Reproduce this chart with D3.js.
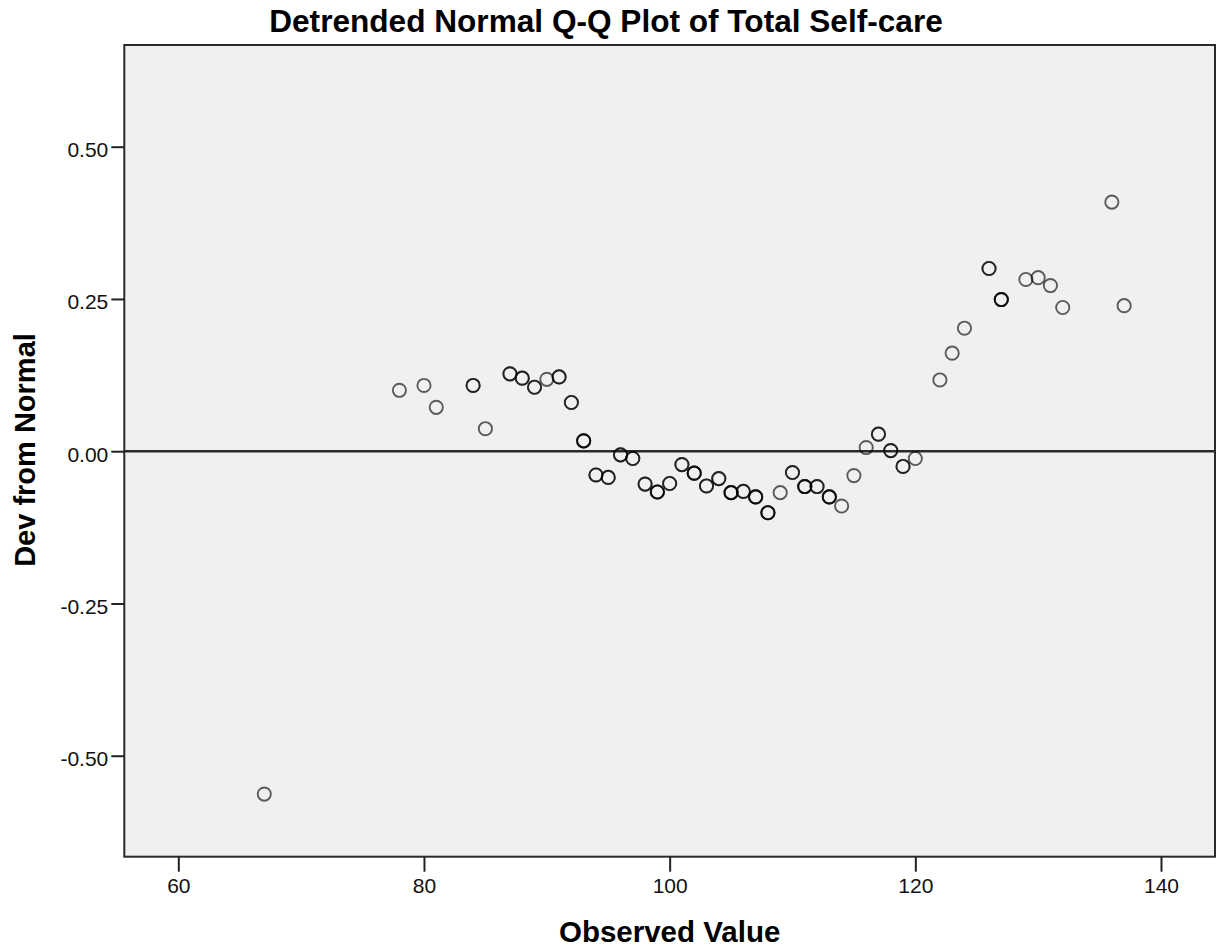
<!DOCTYPE html>
<html>
<head>
<meta charset="utf-8">
<title>Detrended Normal Q-Q Plot of Total Self-care</title>
<script src="https://cdn.jsdelivr.net/npm/d3@7"></script>
<style>
  html, body { margin: 0; padding: 0; background: #ffffff; }
  svg { display: block; font-family: "Liberation Sans", Arial, Helvetica, sans-serif; }
</style>
</head>
<body>
<svg id="chart" width="1219" height="951"></svg>
<script>
// Observed Total Self-care scores (distinct values)
const observed = [67, 78, 80, 81, 84, 85, 87, 88, 89, 90, 91, 92, 93, 94, 95, 96, 97, 98, 99, 100,
  101, 102, 103, 104, 105, 106, 107, 108, 109, 110, 111, 112, 113, 114, 115, 116, 117, 118, 119, 120,
  122, 123, 124, 126, 127, 129, 130, 131, 132, 136, 137];

// Deviation from the expected normal value for each score
const deviation = [-0.563, 0.100, 0.108, 0.072, 0.108, 0.037, 0.127, 0.120, 0.105, 0.118, 0.122, 0.080, 0.017, -0.039, -0.043, -0.006, -0.012, -0.054, -0.067, -0.053,
  -0.022, -0.036, -0.057, -0.045, -0.068, -0.066, -0.075, -0.101, -0.068, -0.035, -0.058, -0.058, -0.075, -0.090, -0.040, 0.006, 0.028, 0.001, -0.025, -0.012,
  0.117, 0.161, 0.202, 0.300, 0.249, 0.282, 0.285, 0.272, 0.236, 0.409, 0.239];

// Number of cases sharing each score (tied cases are drawn on top of each other)
const caseCount = [1, 1, 1, 1, 2, 1, 2, 2, 2, 1, 2, 2, 3, 2, 2, 2, 2, 2, 3, 2,
  2, 3, 2, 2, 3, 2, 3, 3, 1, 2, 3, 2, 3, 1, 1, 1, 2, 2, 2, 1,
  1, 1, 1, 2, 3, 1, 1, 1, 1, 1, 1];

const xTicks = [60, 80, 100, 120, 140];
const yTicks = [-0.50, -0.25, 0.00, 0.25, 0.50];

const titleText = "Detrended Normal Q-Q Plot of Total Self-care";
const xTitle = "Observed Value";
const yTitle = "Dev from Normal";

const plot = { left: 124.3, top: 45, right: 1215, bottom: 856.7 };

const svg = d3.select("#chart");

const x = d3.scaleLinear().domain([55.603, 144.397]).range([plot.left, plot.right]);
const y = d3.scaleLinear().domain([-0.6658, 0.667]).range([plot.bottom, plot.top]);

// Plot background
svg.append("rect")
  .attr("x", plot.left).attr("y", plot.top)
  .attr("width", plot.right - plot.left).attr("height", plot.bottom - plot.top)
  .attr("fill", "#f0f0f0");

// Zero reference line
svg.append("line")
  .attr("x1", plot.left).attr("x2", plot.right)
  .attr("y1", y(0)).attr("y2", y(0))
  .attr("stroke", "#2a2a2a").attr("stroke-width", 2.4);

// Points: one circle per case, so tied scores look heavier
const cases = [];
observed.forEach((v, i) => {
  for (let k = 0; k < caseCount[i]; k++) cases.push({ v: v, d: deviation[i] });
});
svg.append("g")
  .selectAll("circle")
  .data(cases)
  .join("circle")
  .attr("cx", d => x(d.v))
  .attr("cy", d => y(d.d))
  .attr("r", 6.6)
  .attr("fill", "none")
  .attr("stroke", "#000")
  .attr("stroke-opacity", 0.62)
  .attr("stroke-width", 1.9);

// Frame
svg.append("rect")
  .attr("x", plot.left).attr("y", plot.top)
  .attr("width", plot.right - plot.left).attr("height", plot.bottom - plot.top)
  .attr("fill", "none")
  .attr("stroke", "#2a2a2a").attr("stroke-width", 2);

// Axes (plain hyphen for negative numbers)
const fmt2 = d3.format(".2f");
const yFormat = d => fmt2(d).replace("\u2212", "-");

const xAxis = d3.axisBottom(x).tickValues(xTicks).tickFormat(d3.format("d"))
  .tickSize(15).tickSizeOuter(0).tickPadding(6);
const gx = svg.append("g").attr("transform", `translate(0,${plot.bottom})`).call(xAxis);
gx.select(".domain").remove();
gx.selectAll(".tick line").attr("stroke", "#222").attr("stroke-width", 2);
gx.selectAll(".tick text").attr("fill", "#111").style("font-size", "21px")
  .style("font-family", '"Liberation Sans", Arial, sans-serif');

const yAxis = d3.axisLeft(y).tickValues(yTicks).tickFormat(yFormat)
  .tickSize(13).tickSizeOuter(0).tickPadding(3);
const gy = svg.append("g").attr("transform", `translate(${plot.left},0)`).call(yAxis);
gy.select(".domain").remove();
gy.selectAll(".tick line").attr("stroke", "#222").attr("stroke-width", 2);
gy.selectAll(".tick text").attr("fill", "#111").attr("dy", "0.47em").style("font-size", "21px")
  .style("font-family", '"Liberation Sans", Arial, sans-serif');

// Titles
svg.append("text")
  .attr("x", 606).attr("y", 31.7)
  .attr("text-anchor", "middle")
  .style("font-size", "31.6px").style("font-weight", "bold")
  .attr("fill", "#000")
  .text(titleText);

svg.append("text")
  .attr("x", (plot.left + plot.right) / 2).attr("y", 941.5)
  .attr("text-anchor", "middle")
  .style("font-size", "29.5px").style("font-weight", "bold")
  .attr("fill", "#000")
  .text(xTitle);

svg.append("text")
  .attr("transform", `translate(35,450) rotate(-90)`)
  .attr("text-anchor", "middle")
  .style("font-size", "29px").style("font-weight", "bold")
  .attr("fill", "#000")
  .text(yTitle);
</script>
</body>
</html>
